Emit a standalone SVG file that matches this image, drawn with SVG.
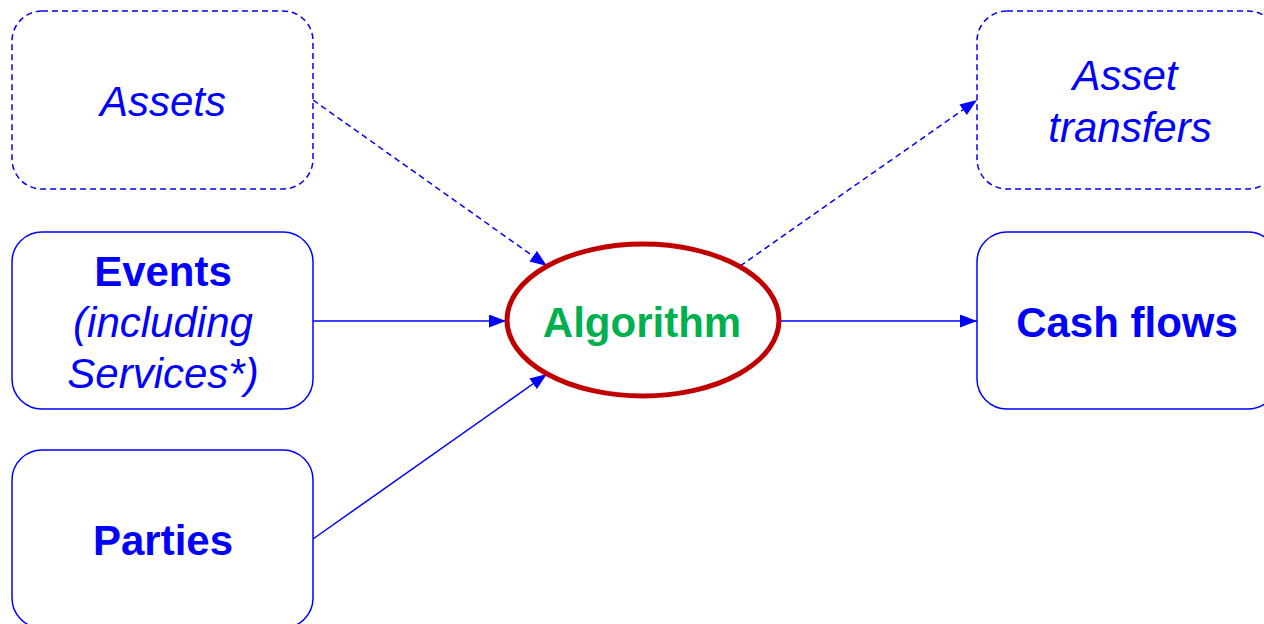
<svg xmlns="http://www.w3.org/2000/svg" width="1264" height="624" viewBox="0 0 1264 624">
<style>
.box{fill:#fff;stroke:#0000FF;stroke-width:1.5}
.dash{stroke-dasharray:6 4}
.t{font-family:"Liberation Sans",Arial,sans-serif;font-size:42px;fill:#0000FF;text-anchor:middle}
.b{font-weight:bold}
.i{font-style:italic}
.c{fill:none;stroke:#0000FF;stroke-width:1.5}
</style>
<defs>
<marker id="ah" viewBox="0 0 17 13" refX="17" refY="6.5" markerWidth="17" markerHeight="13" markerUnits="userSpaceOnUse" orient="auto">
<path d="M0,0 L17,6.5 L0,13 z" fill="#0000FF"/>
</marker>
</defs>
<rect width="1264" height="624" fill="#fff"/>
<g id="connectors">
<path class="c dash" d="M313,100 L547,266" marker-end="url(#ah)"/>
<path class="c" d="M313,321 L506,321" marker-end="url(#ah)"/>
<path class="c" d="M313,539 L547,374" marker-end="url(#ah)"/>
<path class="c dash" d="M740,266 L977,100" marker-end="url(#ah)"/>
<path class="c" d="M780,321 L977,321" marker-end="url(#ah)"/>
</g>
<g id="assets">
<rect class="box dash" x="12" y="11" width="301" height="178" rx="30"/>
<text class="t i" x="163" y="116">Assets</text>
</g>
<g id="events">
<rect class="box" x="12" y="232" width="301" height="177" rx="30"/>
<text class="t b" x="163" y="286">Events</text>
<text class="t i" x="163" y="337">(including</text>
<text class="t i" x="163" y="388">Services*)</text>
</g>
<g id="parties">
<rect class="box" x="12" y="450" width="301" height="178" rx="30"/>
<text class="t b" x="163" y="555">Parties</text>
</g>
<g id="algorithm">
<ellipse cx="643" cy="320" rx="136" ry="76" fill="#fff" stroke="#C00000" stroke-width="5"/>
<text class="t b" x="642" y="337" style="fill:#00B050">Algorithm</text>
</g>
<g id="asset-transfers">
<rect class="box dash" x="977" y="11" width="301" height="178" rx="30"/>
<text class="t i" x="1125" y="90">Asset</text>
<text class="t i" x="1130" y="142">transfers</text>
</g>
<g id="cash-flows">
<rect class="box" x="977" y="232" width="301" height="177" rx="30"/>
<text class="t b" x="1127" y="337">Cash flows</text>
</g>
</svg>
